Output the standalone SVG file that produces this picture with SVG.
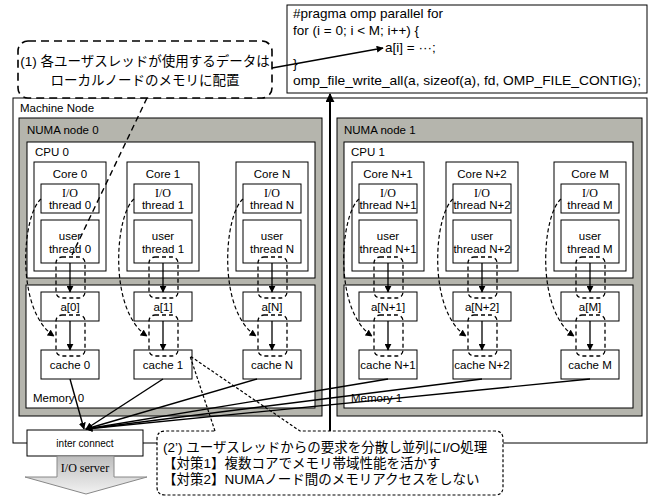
<svg xmlns="http://www.w3.org/2000/svg" width="651" height="499" viewBox="0 0 651 499">
<style>
.box{fill:#fff;stroke:#000;stroke-width:1}
.numa{fill:#b5b5ad;stroke:#000;stroke-width:1}
.t{font-family:"Liberation Sans",Arial,sans-serif;font-size:11.5px;fill:#000}
.s{font-family:"Liberation Serif","Times New Roman",serif;font-size:12px;fill:#000}
.j{font-family:"Liberation Sans","Noto Sans CJK JP",sans-serif;font-size:13.5px;fill:#000}
.code{font-family:"Liberation Sans",Arial,sans-serif;font-size:13.5px;fill:#000}
.c{text-anchor:middle}
.loop{fill:none;stroke:#000;stroke-width:1.3;stroke-dasharray:4 3}
.curve{fill:none;stroke:#000;stroke-width:1.2;stroke-dasharray:4 2.5}
.arr{stroke:#000;stroke-width:1.3;fill:none;marker-end:url(#ah)}
.ic{stroke:#000;stroke-width:1.4;fill:none;marker-end:url(#ah)}
</style>
<defs>
<marker id="ah" viewBox="0 0 10 10" refX="9" refY="5" markerWidth="7" markerHeight="7" markerUnits="userSpaceOnUse" orient="auto"><path d="M0,0 L10,5 L0,10 Z" fill="#000"/></marker>
<marker id="ah2" viewBox="0 0 10 10" refX="9" refY="5" markerWidth="9" markerHeight="9" markerUnits="userSpaceOnUse" orient="auto"><path d="M0,0 L10,5 L0,10 Z" fill="#000"/></marker>
<linearGradient id="gr" x1="0" y1="0" x2="0" y2="1"><stop offset="0" stop-color="#bdbdbd"/><stop offset="1" stop-color="#f2f2f2"/></linearGradient>
</defs>

<g id="code">
<rect class="box" x="287" y="5" width="360" height="88"/>
<text class="code" x="293" y="18">#pragma omp parallel for</text>
<text class="code" x="293" y="35">for (i = 0; i &lt; M; i++) {</text>
<text class="code" x="385" y="52">a[i] = ···;</text>
<text class="code" x="293" y="68">}</text>
<text class="code" x="293" y="85" textLength="348" lengthAdjust="spacingAndGlyphs">omp_file_write_all(a, sizeof(a), fd, OMP_FILE_CONTIG);</text>
</g>

<g id="machine">
<rect class="box" x="13" y="98" width="634" height="345"/>
<text class="t" x="20" y="112">Machine Node</text>
</g>

<g id="numa0">
<rect class="numa" x="19" y="118" width="303" height="298"/>
<text class="t" x="27" y="134">NUMA node 0</text>
</g>
<g id="cpu0">
<rect class="box" x="27" y="142" width="288" height="136"/>
<text class="t" x="35" y="156">CPU 0</text>
</g>
<g id="mem0">
<rect class="box" x="26" y="285" width="289" height="123"/>
<text class="t" x="33" y="402">Memory 0</text>
</g>

<g id="numa1">
<rect class="numa" x="337" y="118" width="305" height="298"/>
<text class="t" x="344" y="134">NUMA node 1</text>
</g>
<g id="cpu1">
<rect class="box" x="344" y="142" width="289" height="136"/>
<text class="t" x="351" y="156">CPU 1</text>
</g>
<g id="mem1">
<rect class="box" x="344" y="285" width="289" height="123"/>
<text class="t" x="351" y="402">Memory 1</text>
</g>

<g id="core0"><rect class="box" x="34" y="162" width="72" height="109"/><text class="t c" x="70" y="178">Core 0</text></g>
<g id="io0"><rect class="box" x="41" y="184" width="58" height="29"/><text class="s c" x="70" y="197">I/O</text><text class="t c" x="70" y="209">thread 0</text></g>
<g id="user0"><rect class="box" x="41" y="220" width="58" height="43"/><text class="t c" x="70" y="240">user</text><text class="t c" x="70" y="253">thread 0</text></g>
<g id="a0"><rect class="box" x="41" y="292" width="58" height="29"/><text class="t c" x="70" y="311">a[0]</text></g>
<g id="cache0"><rect class="box" x="41" y="350" width="58" height="29"/><text class="t c" x="70" y="369">cache 0</text></g>

<g id="core1"><rect class="box" x="127" y="162" width="72" height="109"/><text class="t c" x="163" y="178">Core 1</text></g>
<g id="io1"><rect class="box" x="134" y="184" width="58" height="29"/><text class="s c" x="163" y="197">I/O</text><text class="t c" x="163" y="209">thread 1</text></g>
<g id="user1"><rect class="box" x="134" y="220" width="58" height="43"/><text class="t c" x="163" y="240">user</text><text class="t c" x="163" y="253">thread 1</text></g>
<g id="a1"><rect class="box" x="134" y="292" width="58" height="29"/><text class="t c" x="163" y="311">a[1]</text></g>
<g id="cache1"><rect class="box" x="134" y="350" width="58" height="29"/><text class="t c" x="163" y="369">cache 1</text></g>

<g id="coreN"><rect class="box" x="236" y="162" width="72" height="109"/><text class="t c" x="272" y="178">Core N</text></g>
<g id="ioN"><rect class="box" x="243" y="184" width="58" height="29"/><text class="s c" x="272" y="197">I/O</text><text class="t c" x="272" y="209">thread N</text></g>
<g id="userN"><rect class="box" x="243" y="220" width="58" height="43"/><text class="t c" x="272" y="240">user</text><text class="t c" x="272" y="253">thread N</text></g>
<g id="aN"><rect class="box" x="243" y="292" width="58" height="29"/><text class="t c" x="272" y="311">a[N]</text></g>
<g id="cacheN"><rect class="box" x="243" y="350" width="58" height="29"/><text class="t c" x="272" y="369">cache N</text></g>

<g id="coreN1"><rect class="box" x="352" y="162" width="72" height="109"/><text class="t c" x="388" y="178">Core N+1</text></g>
<g id="ioN1"><rect class="box" x="359" y="184" width="58" height="29"/><text class="s c" x="388" y="197">I/O</text><text class="t c" x="388" y="209">thread N+1</text></g>
<g id="userN1"><rect class="box" x="359" y="220" width="58" height="43"/><text class="t c" x="388" y="240">user</text><text class="t c" x="388" y="253">thread N+1</text></g>
<g id="aN1"><rect class="box" x="359" y="292" width="58" height="29"/><text class="t c" x="388" y="311">a[N+1]</text></g>
<g id="cacheN1"><rect class="box" x="359" y="350" width="58" height="29"/><text class="t c" x="388" y="369">cache N+1</text></g>

<g id="coreN2"><rect class="box" x="446" y="162" width="72" height="109"/><text class="t c" x="482" y="178">Core N+2</text></g>
<g id="ioN2"><rect class="box" x="453" y="184" width="58" height="29"/><text class="s c" x="482" y="197">I/O</text><text class="t c" x="482" y="209">thread N+2</text></g>
<g id="userN2"><rect class="box" x="453" y="220" width="58" height="43"/><text class="t c" x="482" y="240">user</text><text class="t c" x="482" y="253">thread N+2</text></g>
<g id="aN2"><rect class="box" x="453" y="292" width="58" height="29"/><text class="t c" x="482" y="311">a[N+2]</text></g>
<g id="cacheN2"><rect class="box" x="453" y="350" width="58" height="29"/><text class="t c" x="482" y="369">cache N+2</text></g>

<g id="coreM"><rect class="box" x="554" y="162" width="72" height="109"/><text class="t c" x="590" y="178">Core M</text></g>
<g id="ioM"><rect class="box" x="561" y="184" width="58" height="29"/><text class="s c" x="590" y="197">I/O</text><text class="t c" x="590" y="209">thread M</text></g>
<g id="userM"><rect class="box" x="561" y="220" width="58" height="43"/><text class="t c" x="590" y="240">user</text><text class="t c" x="590" y="253">thread M</text></g>
<g id="aM"><rect class="box" x="561" y="292" width="58" height="29"/><text class="t c" x="590" y="311">a[M]</text></g>
<g id="cacheM"><rect class="box" x="561" y="350" width="58" height="29"/><text class="t c" x="590" y="369">cache M</text></g>

<g id="interconnect">
<rect class="box" x="27" y="430" width="116" height="26"/>
<text class="t c" x="85" y="447" style="font-size:10px">inter connect</text>
</g>
<g id="ioserver">
<path d="M57,456 L114,456 L114,477 L147,477 L86,494 L25,477 L57,477 Z" fill="url(#gr)" stroke="#888" stroke-width="1"/>
<text class="s c" x="85" y="472">I/O server</text>
</g>

<g id="connectors">
<line class="arr" x1="70" y1="263" x2="70" y2="292"/>
<line class="arr" x1="70" y1="321" x2="70" y2="350"/>
<line class="arr" x1="163" y1="263" x2="163" y2="292"/>
<line class="arr" x1="163" y1="321" x2="163" y2="350"/>
<line class="arr" x1="272" y1="263" x2="272" y2="292"/>
<line class="arr" x1="272" y1="321" x2="272" y2="350"/>
<line class="arr" x1="388" y1="263" x2="388" y2="292"/>
<line class="arr" x1="388" y1="321" x2="388" y2="350"/>
<line class="arr" x1="482" y1="263" x2="482" y2="292"/>
<line class="arr" x1="482" y1="321" x2="482" y2="350"/>
<line class="arr" x1="590" y1="263" x2="590" y2="292"/>
<line class="arr" x1="590" y1="321" x2="590" y2="350"/>
<rect class="loop" x="56" y="257" width="29" height="41" rx="6"/>
<rect class="loop" x="56" y="315" width="29" height="41" rx="6"/>
<rect class="loop" x="149" y="257" width="29" height="41" rx="6"/>
<rect class="loop" x="149" y="315" width="29" height="41" rx="6"/>
<rect class="loop" x="258" y="257" width="29" height="41" rx="6"/>
<rect class="loop" x="258" y="315" width="29" height="41" rx="6"/>
<rect class="loop" x="374" y="257" width="29" height="41" rx="6"/>
<rect class="loop" x="374" y="315" width="29" height="41" rx="6"/>
<rect class="loop" x="468" y="257" width="29" height="41" rx="6"/>
<rect class="loop" x="468" y="315" width="29" height="41" rx="6"/>
<rect class="loop" x="576" y="257" width="29" height="41" rx="6"/>
<rect class="loop" x="576" y="315" width="29" height="41" rx="6"/>
<path class="curve" marker-end="url(#ah)" d="M41,199 C22,215 15,310 54,336"/>
<path class="curve" marker-end="url(#ah)" d="M134,199 C115,215 108,310 147,336"/>
<path class="curve" marker-end="url(#ah)" d="M243,199 C224,215 217,310 256,336"/>
<path class="curve" marker-end="url(#ah)" d="M359,199 C340,215 333,310 372,336"/>
<path class="curve" marker-end="url(#ah)" d="M453,199 C434,215 427,310 466,336"/>
<path class="curve" marker-end="url(#ah)" d="M561,199 C542,215 535,310 574,336"/>
<line class="ic" x1="70" y1="379" x2="84" y2="429"/>
<line class="ic" x1="163" y1="379" x2="86" y2="429"/>
<line class="ic" x1="257" y1="379" x2="86" y2="429"/>
<line class="ic" x1="388" y1="379" x2="86" y2="429"/>
<line class="ic" x1="482" y1="379" x2="86" y2="429"/>
<line class="ic" x1="590" y1="379" x2="86" y2="429"/>
<line x1="330" y1="431" x2="330" y2="94" stroke="#000" stroke-width="2" marker-end="url(#ah2)"/>
<line class="arr" x1="272" y1="68" x2="383" y2="48"/>
<line x1="147" y1="98" x2="72" y2="255" stroke="#000" stroke-width="1.4" stroke-dasharray="6 4"/>
</g>

<g id="callout1">
<rect x="18" y="41" width="254" height="57" rx="10" fill="#fff" stroke="#000" stroke-width="1.6" stroke-dasharray="8 5"/>
<text class="j c" x="145" y="66">(1) 各ユーザスレッドが使用するデータは</text>
<text class="j c" x="145" y="85">ローカルノードのメモリに配置</text>
</g>

<g id="callout2">
<rect x="157" y="431" width="346" height="64" rx="8" fill="#fff"/>
<path d="M215,431 L190,356 L300,431 L495,431 Q503,431 503,439 L503,487 Q503,495 495,495 L165,495 Q157,495 157,487 L157,439 Q157,431 165,431 Z" fill="none" stroke="#000" stroke-width="1.2" stroke-dasharray="3 2"/>
<text class="j" x="163" y="452">(2’) ユーザスレッドからの要求を分散し並列にI/O処理</text>
<text class="j" x="163" y="468">【対策1】複数コアでメモリ帯域性能を活かす</text>
<text class="j" x="163" y="484">【対策2】NUMAノード間のメモリアクセスをしない</text>
</g>
</svg>
